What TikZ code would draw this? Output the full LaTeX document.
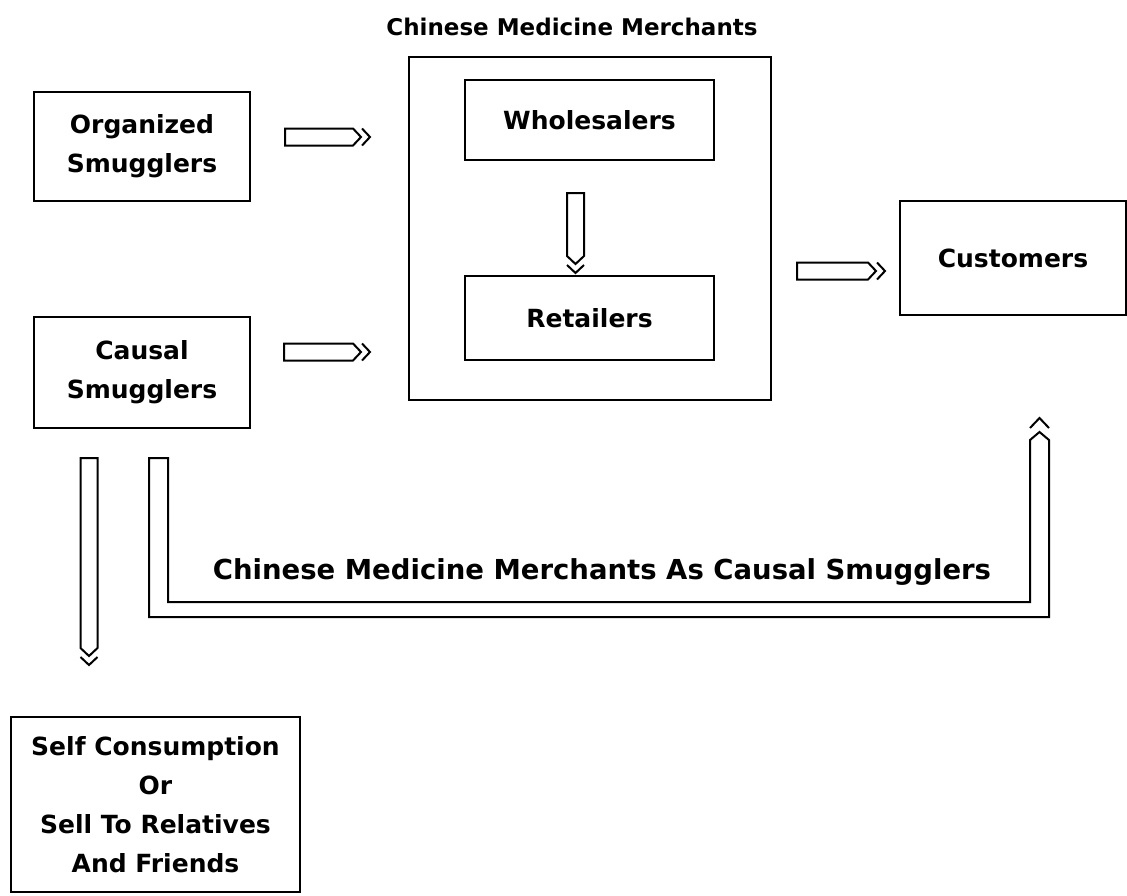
\documentclass[tikz,border=0pt]{standalone}
\usepackage{fontspec}
\setmainfont{DejaVu Sans}
\usetikzlibrary{calc}
\newcommand\blockR[2]{% horizontal hollow arrow pointing right, #2 = outer chevron tip
  \draw[blk] let \p1=(#1), \p2=(#2) in
    (\x1,\y1+8.5pt) -- (\x2-17pt,\y1+8.5pt) -- (\x2-9pt,\y1) -- (\x2-17pt,\y1-8.5pt) -- (\x1,\y1-8.5pt) -- cycle
    (\x2-8pt,\y1+8.5pt) -- (\x2,\y1) -- (\x2-8pt,\y1-8.5pt);}
\newcommand\blockD[2]{% vertical hollow arrow pointing down
  \draw[blk] let \p1=(#1), \p2=(#2) in
    (\x1-8.5pt,\y1) -- (\x1-8.5pt,\y2+17pt) -- (\x1,\y2+9pt) -- (\x1+8.5pt,\y2+17pt) -- (\x1+8.5pt,\y1) -- cycle
    (\x1-8.5pt,\y2+8pt) -- (\x1,\y2) -- (\x1+8.5pt,\y2+8pt);}
\begin{document}
\begin{tikzpicture}[x=1pt,y=-1pt,
  txt/.style={font=\bfseries\fontsize{25}{39}\selectfont, align=center, inner sep=0pt},
  box/.style={draw, line width=2.2pt, txt},
  blk/.style={draw, line width=2pt, line join=miter}]
\useasboundingbox (0,0) rectangle (1127,895);
\fill[white] (0,0) rectangle (1127,895);

\node[txt, font=\bfseries\fontsize{23}{26}\selectfont] (title) at (572,27) {Chinese Medicine Merchants};
\node[box, minimum width=216pt, minimum height=109pt] (org) at (142,146.5) {Organized\\Smugglers};
\node[box, minimum width=216pt, minimum height=111pt] (causal) at (142,372.5) {Causal\\Smugglers};
\node[box, minimum width=362pt, minimum height=343pt] (merch) at (590,228.5) {};
\node[box, minimum width=249pt, minimum height=80pt] (whole) at (589.5,120) {Wholesalers};
\node[box, minimum width=249pt, minimum height=84pt] (retail) at (589.5,318) {Retailers};
\node[box, minimum width=226pt, minimum height=114pt] (cust) at (1013,258) {Customers};
\node[box, minimum width=289pt, minimum height=175pt] (selfc) at (155.5,804.5) {Self Consumption\\Or\\Sell To Relatives\\And Friends};

% arrow end points
\coordinate (a1s) at (285,137);  \coordinate (a1e) at (370,137);
\coordinate (a2s) at (284,352);  \coordinate (a2e) at (370,352);
\coordinate (a3s) at (797,271);  \coordinate (a3e) at (885,271);
\coordinate (dws) at (575.5,193); \coordinate (dwe) at (575.5,273);
\coordinate (dcs) at (89,458);  \coordinate (dce) at (89,665);

\blockR{a1s}{a1e}
\blockR{a2s}{a2e}
\blockR{a3s}{a3e}
\blockD{dws}{dwe}
\blockD{dcs}{dce}

% L-shaped arrow from causal smugglers to customers
\coordinate (ls) at (158.5,458);
\coordinate (le) at (1039.5,418);
\draw[blk] let \p1=(ls), \p2=(le) in
  (\x1-9.5pt,\y1) -- (\x1-9.5pt,-617pt) -- (\x2+9.5pt,-617pt) -- (\x2+9.5pt,\y2-22pt) -- (\x2,\y2-14pt)
  -- (\x2-9.5pt,\y2-22pt) -- (\x2-9.5pt,-602pt) -- (\x1+9.5pt,-602pt) -- (\x1+9.5pt,\y1) -- cycle
  (\x2-9.5pt,\y2-10pt) -- (\x2,\y2) -- (\x2+9.5pt,\y2-10pt);
\node[txt, font=\bfseries\fontsize{27.5}{30}\selectfont] (lbl) at (602,572) {Chinese Medicine Merchants As Causal Smugglers};
\end{tikzpicture}
\end{document}
